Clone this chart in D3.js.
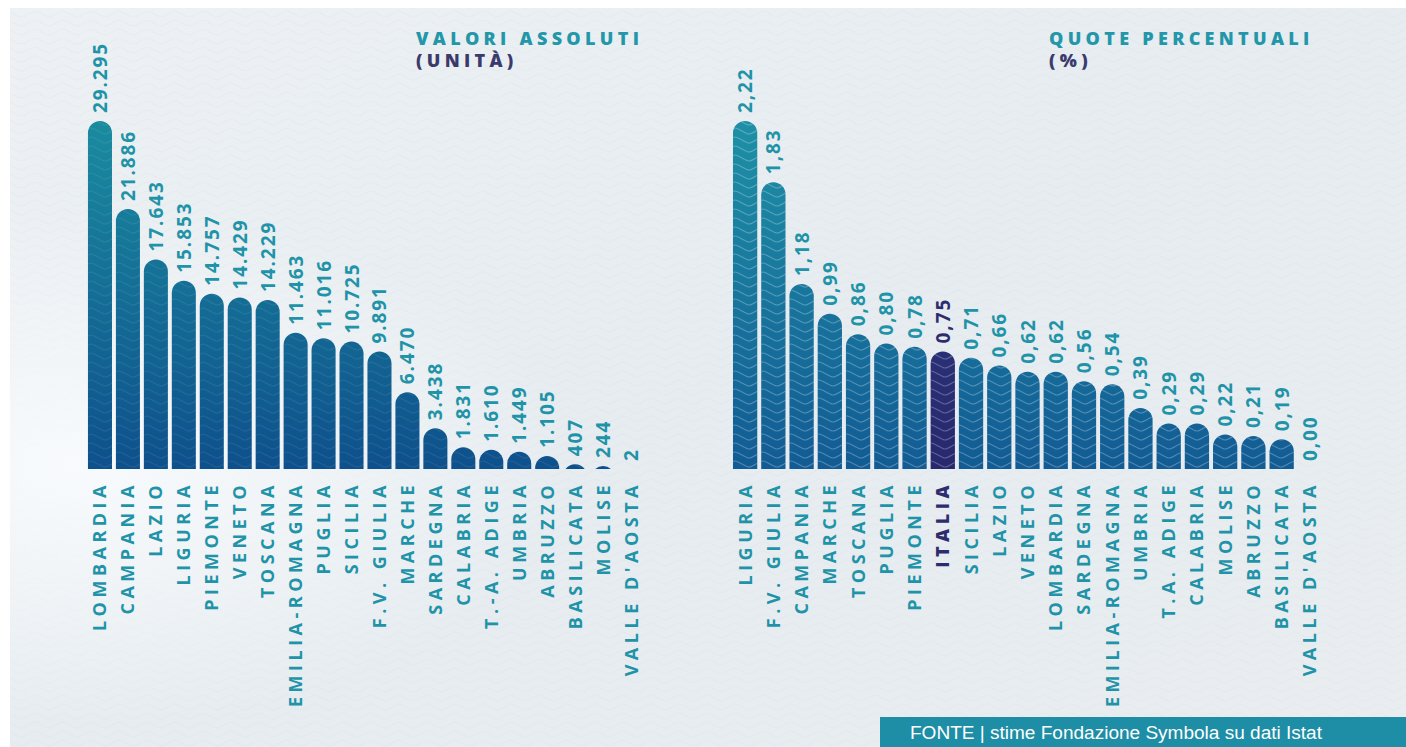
<!DOCTYPE html>
<html><head><meta charset="utf-8">
<script src="https://cdn.jsdelivr.net/npm/d3@7"></script>
<style>
html,body{margin:0;padding:0;background:#fff;}
svg{display:block;}
</style></head>
<body>
<svg id="chart" width="1406" height="747"></svg>
<script>
// ---------- DATA ----------
const absCategories = ["LOMBARDIA","CAMPANIA","LAZIO","LIGURIA","PIEMONTE","VENETO","TOSCANA","EMILIA-ROMAGNA","PUGLIA","SICILIA","F.V. GIULIA","MARCHE","SARDEGNA","CALABRIA","T.-A. ADIGE","UMBRIA","ABRUZZO","BASILICATA","MOLISE","VALLE D'AOSTA"];
const absValues = [29295,21886,17643,15853,14757,14429,14229,11463,11016,10725,9891,6470,3438,1831,1610,1449,1105,407,244,2];
const pctCategories = ["LIGURIA","F.V. GIULIA","CAMPANIA","MARCHE","TOSCANA","PUGLIA","PIEMONTE","ITALIA","SICILIA","LAZIO","VENETO","LOMBARDIA","SARDEGNA","EMILIA-ROMAGNA","UMBRIA","T.A. ADIGE","CALABRIA","MOLISE","ABRUZZO","BASILICATA","VALLE D'AOSTA"];
const pctValues = [2.22,1.83,1.18,0.99,0.86,0.80,0.78,0.75,0.71,0.66,0.62,0.62,0.56,0.54,0.39,0.29,0.29,0.22,0.21,0.19,0.00];
const titles = [["VALORI ASSOLUTI","(UNITÀ)"],["QUOTE PERCENTUALI","(%)"]];
const sourceText = "FONTE | stime Fondazione Symbola su dati Istat";
const highlight = "ITALIA";

// ---------- STYLE ----------
const W = 1406, H = 747;
const baseY = 469, topY = 121;
const teal = "#1f93a8", navy = "#2e2c6e";
const svg = d3.select("#chart");
const defs = svg.append("defs");

const bg = defs.append("linearGradient").attr("id","bg").attr("x1",0).attr("y1",0).attr("x2",1).attr("y2",1);
bg.append("stop").attr("offset","0%").attr("stop-color","#edf1f4");
bg.append("stop").attr("offset","50%").attr("stop-color","#e6ecf0");
bg.append("stop").attr("offset","100%").attr("stop-color","#e9edf0");
const bg2 = defs.append("radialGradient").attr("id","glow").attr("cx","0.05").attr("cy","0.62").attr("r","0.35");
bg2.append("stop").attr("offset","0%").attr("stop-color","#fafcfe").attr("stop-opacity",0.9);
bg2.append("stop").attr("offset","100%").attr("stop-color","#fafcfe").attr("stop-opacity",0);

function barGrad(id, c1, c2){
  const g = defs.append("linearGradient").attr("id",id).attr("gradientUnits","userSpaceOnUse")
    .attr("x1",0).attr("x2",0).attr("y1",topY).attr("y2",baseY);
  g.append("stop").attr("offset","0%").attr("stop-color",c1);
  g.append("stop").attr("offset","100%").attr("stop-color",c2);
}
barGrad("gL","#1a8b9f","#0e508c");
barGrad("gR","#1e90a6","#125b94");
barGrad("gI","#2c3f86","#28286e");

function wave(id, op, stroke){
  const p = defs.append("pattern").attr("id",id).attr("patternUnits","userSpaceOnUse")
    .attr("width",28).attr("height",9);
  p.append("path").attr("d","M0,5 C7,1 7,1 14,5 C21,9 21,9 28,5").attr("fill","none")
    .attr("stroke",stroke).attr("stroke-opacity",op).attr("stroke-width",1.1);
}
wave("wv",0.26,"#fff");
wave("wvL",0.08,"#fff");
wave("wbg",0.35,"#d9e2e9");

svg.append("rect").attr("width",W).attr("height",H).attr("fill","#fff");
svg.append("rect").attr("x",10).attr("y",8).attr("width",W-10).attr("height",H-8).attr("fill","url(#bg)");
svg.append("rect").attr("x",10).attr("y",8).attr("width",W-10).attr("height",H-8).attr("fill","url(#wbg)");
svg.append("rect").attr("x",10).attr("y",8).attr("width",W-10).attr("height",H-8).attr("fill","url(#glow)");

const fontLab = "'Open Sans', 'DejaVu Sans', sans-serif";

function barPath(x0, w, yTop, yBase){
  const h = yBase - yTop;
  const r = w/2;
  if (h <= 0) return "";
  if (h >= r){
    return `M${x0},${yBase} V${yTop+r} A${r},${r} 0 0 1 ${x0+w},${yTop+r} V${yBase} Z`;
  }
  const dx = Math.sqrt(r*r - (r-h)*(r-h));
  const cx = x0 + r;
  return `M${cx-dx},${yBase} A${r},${r} 0 0 1 ${cx+dx},${yBase} Z`;
}

function drawPanel(cats, vals, x0, x1, maxV, fmt, fillId, waveId){
  const x = d3.scaleBand().domain(cats).range([x0,x1]).paddingInner(0.14).paddingOuter(0.07);
  const y = d3.scaleLinear().domain([0,maxV]).range([baseY, topY]);
  const g = svg.append("g");
  const data = cats.map((c,i)=>({c, v:vals[i]}));
  const bw = x.bandwidth();
  g.selectAll("path.bar").data(data).join("path").attr("class","bar")
    .attr("d",d=>barPath(x(d.c), bw, y(d.v), baseY))
    .attr("fill",d=>d.c===highlight?"url(#gI)":`url(#${fillId})`);
  g.selectAll("path.wv").data(data).join("path").attr("class","wv")
    .attr("d",d=>barPath(x(d.c), bw, y(d.v), baseY))
    .attr("fill",`url(#${waveId})`);
  g.selectAll("text.val").data(data).join("text").attr("class","val")
    .attr("transform",d=>`translate(${x(d.c)+bw/2+7},${y(d.v)-8}) rotate(-90)`)
    .attr("text-anchor","start")
    .attr("font-family",fontLab).attr("font-weight",700).attr("font-size",19)
    .attr("letter-spacing",1.9)
    .attr("fill",d=>d.c===highlight?navy:teal)
    .text(d=>fmt(d.v));
  g.selectAll("text.cat").data(data).join("text").attr("class","cat")
    .attr("transform",d=>`translate(${x(d.c)+bw/2+6.5},${baseY+12}) rotate(-90)`)
    .attr("text-anchor","end")
    .attr("font-family",fontLab).attr("font-weight",d=>d.c===highlight?800:700).attr("font-size",18)
    .attr("letter-spacing",4.5)
    .attr("fill",d=>d.c===highlight?navy:teal)
    .text(d=>d.c);
}

const itFmt = d3.formatLocale({decimal:",",thousands:".",grouping:[3],currency:["","€"]});
drawPanel(absCategories, absValues, 86, 645, 29295, itFmt.format(",d"), "gL", "wvL");
drawPanel(pctCategories, pctValues, 731, 1324, 2.22, itFmt.format(".2f"), "gR", "wv");

const tpos = [[416,45],[1049,45]];
titles.forEach((t,i)=>{
  const tg = svg.append("g").attr("font-family","'Open Sans', sans-serif").attr("font-weight",800)
    .attr("font-size",18).attr("letter-spacing",4.3);
  tg.append("text").attr("x",tpos[i][0]).attr("y",tpos[i][1]).attr("fill","#2397a9").text(t[0]);
  tg.append("text").attr("x",tpos[i][0]).attr("y",tpos[i][1]+22).attr("fill","#3b3a6c").text(t[1]);
});

svg.append("rect").attr("x",880).attr("y",717).attr("width",W-880).attr("height",30).attr("fill","#1d8ea6");
svg.append("text").attr("x",910).attr("y",739).attr("fill","#fff")
  .attr("font-family","'Liberation Sans', Arial, sans-serif").attr("font-size",17.5)
  .attr("textLength",412).attr("lengthAdjust","spacingAndGlyphs")
  .text(sourceText);
</script>
</body></html>
